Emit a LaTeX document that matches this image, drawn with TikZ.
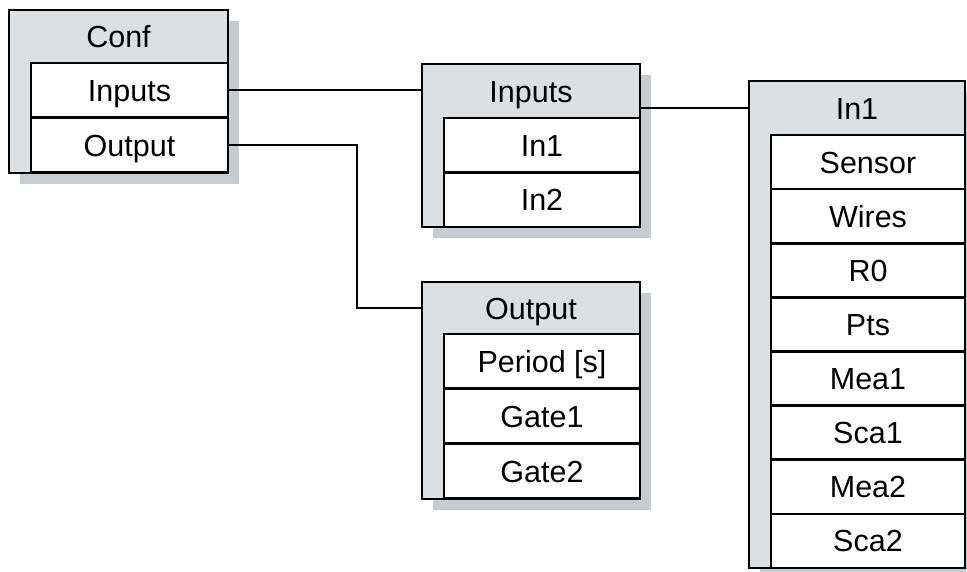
\documentclass[tikz,border=0pt]{standalone}
\usepackage{fontspec}
\setmainfont{Liberation Sans}
\usetikzlibrary{shadows}
\definecolor{headgray}{RGB}{221,224,227}
\definecolor{shadowgray}{RGB}{200,204,207}
\begin{document}
\begin{tikzpicture}[x=1pt,y=-1pt,
  font=\fontsize{30.5}{36}\selectfont,
  box/.style={draw, line width=2.6pt, fill=headgray, inner sep=0pt, outer sep=0pt, anchor=north west,
    general shadow={fill=shadowgray, shadow xshift=11pt, shadow yshift=-11pt}},
  headtxt/.style={inner sep=0pt, outer sep=0pt, anchor=north west, text height=22pt, text depth=0pt},
  rowbox/.style={draw, line width=2.6pt, fill=white, inner sep=0pt, outer sep=0pt, anchor=north west,
    minimum height=54.5pt, text height=22pt, text depth=0pt},
  link/.style={draw, line width=2.4pt}]
\useasboundingbox (0,0) rectangle (967,571);
\clip (0,0) rectangle (967,571);
% Conf
\node[box, minimum width=219pt, minimum height=163pt] (conf) at (9,10) {};
\node[headtxt, minimum width=219pt, minimum height=53pt] (conf-h) at (9,10) {Conf};
\node[rowbox, minimum width=197pt] (conf-1) at (31,63) {Inputs};
\node[rowbox, minimum width=197pt] (conf-2) at (31,118) {Output};
% Inputs
\node[box, minimum width=218pt, minimum height=163pt] (inp) at (422,64) {};
\node[headtxt, minimum width=218pt, minimum height=54pt] (inp-h) at (422,64) {Inputs};
\node[rowbox, minimum width=196pt] (inp-1) at (444,118) {In1};
\node[rowbox, minimum width=196pt] (inp-2) at (444,172.5) {In2};
% Output
\node[box, minimum width=218pt, minimum height=217pt] (out) at (422,282) {};
\node[headtxt, minimum width=218pt, minimum height=52pt] (out-h) at (422,282) {Output};
\node[rowbox, minimum width=196pt] (out-1) at (444,334) {Period [s]};
\node[rowbox, minimum width=196pt] (out-2) at (444,389) {Gate1};
\node[rowbox, minimum width=196pt] (out-3) at (444,444) {Gate2};
% In1
\node[box, minimum width=216pt, minimum height=487pt] (in1) at (749,81) {};
\node[headtxt, minimum width=216pt, minimum height=54pt] (in1-h) at (749,81) {In1};
\foreach \t [count=\i from 0] in {Sensor,Wires,R0,Pts,Mea1,Sca1,Mea2,Sca2}
  \node[rowbox, minimum width=194pt, minimum height=54.125pt] (in1-\i) at (771,135+54.125*\i) {\t};
% connectors
\coordinate (bend) at (357,145);
\path[link] (conf-1.east) -- (conf-1.east -| inp.west);
\path[link] (in1-h.west -| inp.east) -- (in1-h.west);
\path[link] (conf-2.east) -- (bend |- conf-2.east) |- (out-h.west);
\end{tikzpicture}
\end{document}
